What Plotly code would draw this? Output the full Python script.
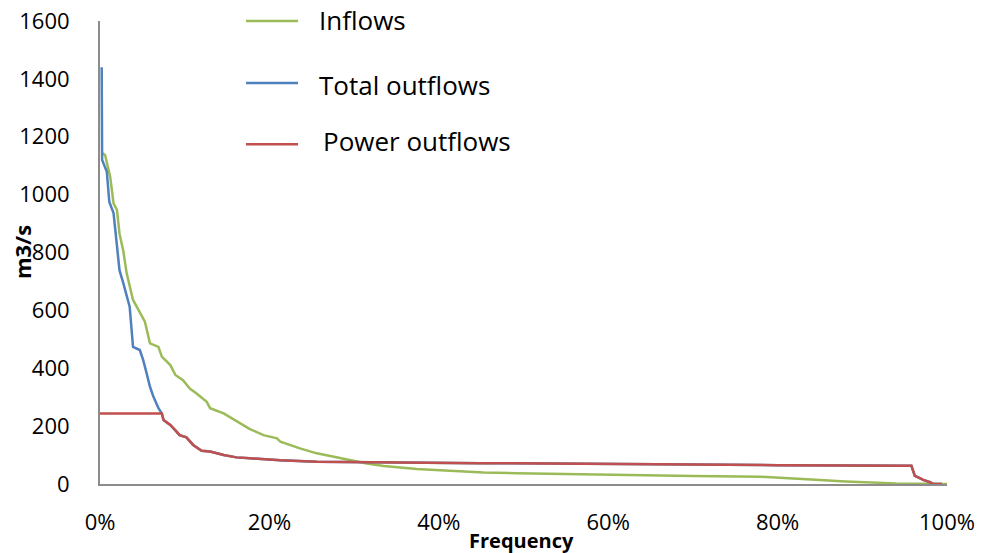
import plotly.graph_objects as go

# ---- data ----
freq_inflows = [0.3, 0.6, 1.2, 1.6, 2.0, 2.3, 2.75, 3.15, 3.9, 4.7, 5.3, 5.9, 6.9, 7.3, 8.3, 8.9,
                9.8, 10.6, 11.4, 12.6, 13.0, 14.6, 16.5, 17.7, 19.3, 20.9, 21.3, 22.4, 23.6, 25.6,
                27.5, 29.5, 31.5, 33.5, 37.4, 41.3, 45.3, 49.2, 53.1, 60, 70, 78, 82, 85, 88, 91,
                94, 97, 100]
inflows = [1143, 1137, 1062, 970, 947, 866, 805, 728, 636, 595, 561, 486, 474, 440, 411, 377,
           359, 330, 313, 284, 262, 244, 210, 190, 169, 158, 146, 135, 123, 106,
           94, 83, 71, 62, 52, 46, 40, 37, 35, 31, 28, 25, 20, 14, 9, 5,
           2, 1, 0]

freq_total_head = [0.2, 0.25, 0.8, 1.1, 1.6, 2.0, 2.3, 2.75, 3.5, 3.7, 3.9, 4.7, 5.1, 5.5, 5.9,
                   6.3, 6.9]
total_head = [1440, 1120, 1080, 975, 936, 820, 739, 694, 613, 544, 474, 463, 428, 383, 336,
              302, 262]

freq_power = [0, 7.3, 7.5, 8.3, 9.05, 9.4, 10.2, 11.0, 12.0, 13.0, 14.6, 16.1, 17.7, 21.3, 25.6,
              31.5, 37.4, 45, 53.1, 65, 80, 95.8, 96.0, 96.2, 96.6, 97.2, 98.0, 98.4, 99.4]
power_outflows = [244, 244, 221, 204, 181, 169, 161, 135, 115, 112, 100, 92, 89, 82, 77,
                  75, 74, 72, 71, 68, 65, 63, 48, 28, 23, 14, 6, 0, 0]

# total outflows coincide with power outflows beyond ~7.3 %
freq_total = freq_total_head + freq_power[1:]
total_outflows = total_head + power_outflows[1:]

series_names = ["Inflows", "Total outflows", "Power outflows"]
colors = ["#9BBB59", "#4F81BD", "#C0504D"]

x_ticks = [0, 20, 40, 60, 80, 100]
x_tick_labels = ["0%", "20%", "40%", "60%", "80%", "100%"]
y_ticks = [0, 200, 400, 600, 800, 1000, 1200, 1400, 1600]

FONT = "Open Sans"

fig = go.Figure()
fig.add_trace(go.Scatter(x=freq_inflows, y=inflows, mode="lines", name=series_names[0],
                         line=dict(color=colors[0], width=2.5)))
fig.add_trace(go.Scatter(x=freq_total, y=total_outflows, mode="lines", name=series_names[1],
                         line=dict(color=colors[1], width=2.5)))
fig.add_trace(go.Scatter(x=freq_power, y=power_outflows, mode="lines", name=series_names[2],
                         line=dict(color=colors[2], width=2.5)))

# manual legend
leg_line_y = [1.0, 0.866, 0.734]
leg_text_x = [0.2562, 0.2562, 0.2609]
leg_text_y = [1.002, 0.862, 0.741]
for i, name in enumerate(series_names):
    fig.add_shape(type="line", xref="paper", yref="paper",
                  x0=0.1724, x1=0.2338, y0=leg_line_y[i], y1=leg_line_y[i],
                  line=dict(color=colors[i], width=2.5))
    fig.add_annotation(xref="paper", yref="paper", x=leg_text_x[i], y=leg_text_y[i],
                       text=name, showarrow=False, xanchor="left", yanchor="middle",
                       font=dict(family=FONT, size=26, color="#000000"))

# axis titles
fig.add_annotation(xref="paper", yref="paper", x=0.498, y=-0.123, yanchor="middle",
                   text="<b>Frequency</b>", showarrow=False,
                   font=dict(family=FONT, size=20, color="#000000"))
fig.add_annotation(xref="paper", yref="paper", x=-0.092, y=0.501, xanchor="center",
                   yanchor="middle", text="<b>m3/s</b>", textangle=-90, showarrow=False,
                   font=dict(family=FONT, size=22, color="#000000"))

fig.update_layout(
    width=977, height=545,
    margin=dict(l=92, r=38, t=13, b=69, autoexpand=False),
    paper_bgcolor="white", plot_bgcolor="white",
    showlegend=False,
    font=dict(family=FONT, size=22, color="#000000"),
    xaxis=dict(range=[0, 100], tickvals=x_ticks, ticktext=x_tick_labels, showgrid=False,
               zeroline=False, showline=True, linecolor="#8C8C8C", linewidth=2,
               ticks="", ticklabelstandoff=18, ticklabeloverflow="allow",
               automargin=False),
    yaxis=dict(range=[0, 1600], tickvals=y_ticks, showgrid=False, zeroline=False,
               showline=True, linecolor="#8C8C8C", linewidth=2, ticks="",
               ticklabelstandoff=24, ticklabeloverflow="allow", automargin=False),
)

fig.write_html("out.html")
